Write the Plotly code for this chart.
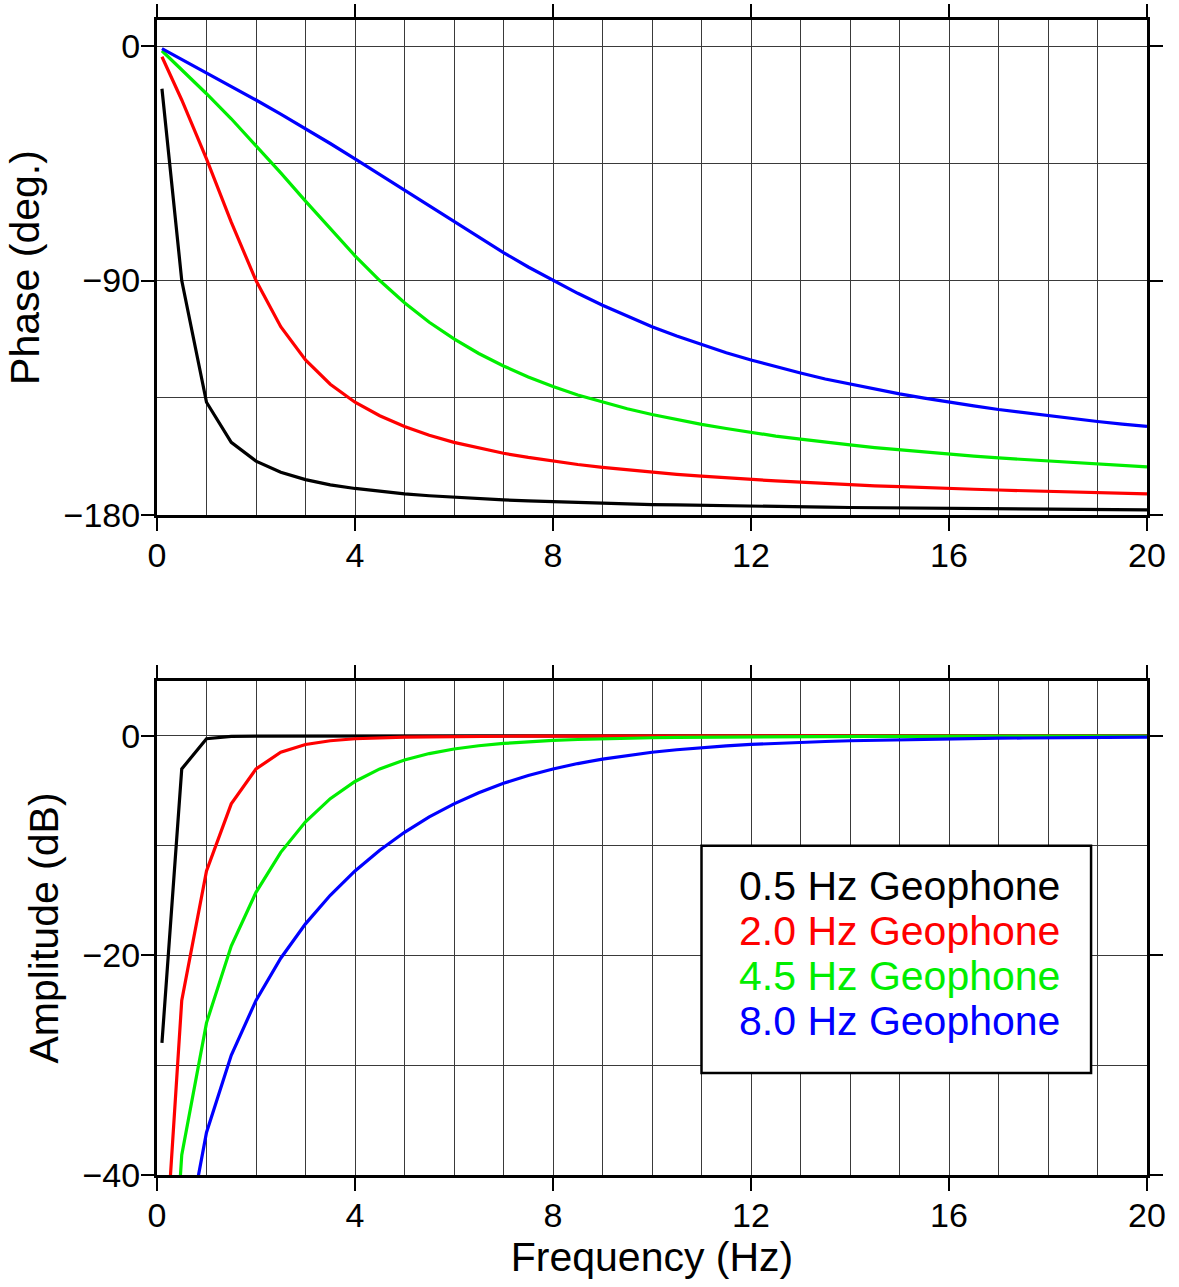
import plotly.graph_objects as go

# ---------------- data ----------------
freq = [0.1, 0.5, 1.0, 1.5, 2.0, 2.5, 3.0, 3.5, 4.0, 4.5, 5.0, 5.5, 6.0, 6.5, 7.0, 7.5,
        8.0, 8.5, 9.0, 9.5, 10.0, 10.5, 11.0, 11.5, 12.0, 12.5, 13.0, 13.5, 14.0, 14.5,
        15.0, 15.5, 16.0, 16.5, 17.0, 17.5, 18.0, 18.5, 19.0, 19.5, 20.0]

series_names = ["0.5 Hz Geophone", "2.0 Hz Geophone", "4.5 Hz Geophone", "8.0 Hz Geophone"]
series_colors = ["#000000", "#ff0000", "#00ee00", "#0000ff"]

phase_05 = [-16.4, -90.0, -136.7, -152.1, -159.3, -163.6, -166.4, -168.4, -169.8, -171.0,
            -171.9, -172.6, -173.2, -173.8, -174.2, -174.6, -174.9, -175.2, -175.5, -175.7,
            -176.0, -176.1, -176.3, -176.5, -176.6, -176.8, -176.9, -177.0, -177.1, -177.2,
            -177.3, -177.4, -177.5, -177.5, -177.6, -177.7, -177.7, -177.8, -177.9, -177.9,
            -178.0]
phase_20 = [-4.1, -20.7, -43.3, -67.6, -90.0, -107.7, -120.5, -129.8, -136.7, -141.9,
            -146.0, -149.4, -152.1, -154.3, -156.3, -157.9, -159.3, -160.6, -161.7, -162.7,
            -163.6, -164.4, -165.1, -165.8, -166.4, -166.9, -167.4, -167.9, -168.4, -168.8,
            -169.1, -169.5, -169.8, -170.1, -170.4, -170.7, -171.0, -171.2, -171.4, -171.7,
            -171.9]
phase_45 = [-1.8, -9.0, -18.3, -27.9, -38.1, -48.7, -59.5, -70.2, -80.5, -90.0,
            -98.5, -106.0, -112.4, -118.0, -122.8, -127.0, -130.7, -133.9, -136.7, -139.2,
            -141.4, -143.4, -145.2, -146.8, -148.3, -149.7, -150.9, -152.1, -153.1, -154.1,
            -155.0, -155.9, -156.6, -157.4, -158.1, -158.7, -159.3, -159.9, -160.5, -161.0,
            -161.5]
phase_80 = [-1.0, -5.1, -10.2, -15.4, -20.7, -26.1, -31.7, -37.4, -43.3, -49.3,
            -55.4, -61.5, -67.6, -73.5, -79.3, -84.8, -90.0, -94.9, -99.5, -103.7,
            -107.7, -111.3, -114.6, -117.7, -120.5, -123.1, -125.5, -127.8, -129.8, -131.7,
            -133.5, -135.1, -136.7, -138.1, -139.5, -140.7, -141.9, -143.1, -144.1, -145.1,
            -146.0]

amp_05 = [-27.97, -3.01, -0.26, -0.05, -0.02, -0.01, 0.0, 0.0, 0.0, 0.0,
          0.0, 0.0, 0.0, 0.0, 0.0, 0.0, 0.0, 0.0, 0.0, 0.0,
          0.0, 0.0, 0.0, 0.0, 0.0, 0.0, 0.0, 0.0, 0.0, 0.0,
          0.0, 0.0, 0.0, 0.0, 0.0, 0.0, 0.0, 0.0, 0.0, 0.0,
          0.0]
amp_20 = [-52.04, -24.10, -12.30, -6.19, -3.01, -1.49, -0.78, -0.44, -0.26, -0.17,
          -0.11, -0.08, -0.05, -0.04, -0.03, -0.02, -0.02, -0.01, -0.01, -0.01,
          -0.01, -0.01, 0.0, 0.0, 0.0, 0.0, 0.0, 0.0, 0.0, 0.0,
          0.0, 0.0, 0.0, 0.0, 0.0, 0.0, 0.0, 0.0, 0.0, 0.0,
          0.0]
amp_45 = [-66.13, -38.17, -26.14, -19.14, -14.25, -10.61, -7.83, -5.72, -4.15, -3.01,
          -2.19, -1.61, -1.19, -0.90, -0.69, -0.53, -0.41, -0.33, -0.26, -0.21,
          -0.17, -0.14, -0.12, -0.10, -0.09, -0.07, -0.06, -0.05, -0.05, -0.04,
          -0.04, -0.03, -0.03, -0.02, -0.02, -0.02, -0.02, -0.02, -0.01, -0.01,
          -0.01]
amp_80 = [-76.12, -48.16, -36.12, -29.09, -24.10, -20.25, -17.12, -14.52, -12.30, -10.41,
          -8.78, -7.38, -6.19, -5.18, -4.32, -3.61, -3.01, -2.52, -2.11, -1.77,
          -1.49, -1.26, -1.07, -0.91, -0.78, -0.67, -0.58, -0.51, -0.44, -0.39,
          -0.34, -0.30, -0.26, -0.23, -0.21, -0.19, -0.17, -0.15, -0.13, -0.12,
          -0.11]

phase_series = [phase_05, phase_20, phase_45, phase_80]
amp_series = [amp_05, amp_20, amp_45, amp_80]

x_ticks = [0, 4, 8, 12, 16, 20]
phase_ticks = [-180, -90, 0]
amp_ticks = [-40, -20, 0]

# ---------------- figure ----------------
FONT = "Liberation Sans, Arial, Helvetica, sans-serif"
fig = go.Figure()

for name, col, ph in zip(series_names, series_colors, phase_series):
    fig.add_trace(go.Scatter(x=freq, y=ph, mode="lines", name=name,
                             line=dict(color=col, width=3.2), showlegend=False,
                             xaxis="x", yaxis="y"))
for name, col, am in zip(series_names, series_colors, amp_series):
    fig.add_trace(go.Scatter(x=freq, y=am, mode="lines", name=name,
                             line=dict(color=col, width=3.2), showlegend=False,
                             xaxis="x2", yaxis="y2"))

grid_col = "#3a3a3a"
common_axis = dict(showline=True, linewidth=3, linecolor="black", mirror="allticks",
                   ticks="outside", ticklen=13, tickwidth=1.5, tickcolor="black",
                   showgrid=True, gridcolor=grid_col, gridwidth=1, zeroline=False,
                   automargin=False,
                   tickfont=dict(family=FONT, size=34, color="black"))

xcommon = dict(common_axis, range=[0, 20], tickmode="array", tickvals=x_ticks,
               ticktext=[str(v) for v in x_ticks], ticklabelstandoff=-5,
               minor=dict(dtick=1, tick0=0, showgrid=True, gridcolor=grid_col, gridwidth=1, ticks=""))

fig.update_layout(
    width=1179, height=1287,
    margin=dict(l=157, r=32, t=20, b=112, autoexpand=False),
    paper_bgcolor="white", plot_bgcolor="white",
    font=dict(family=FONT, color="black"),
    showlegend=False,
    xaxis=dict(xcommon, anchor="y", domain=[0, 1]),
    yaxis=dict(common_axis, anchor="x", domain=[0.5714, 1.0], range=[-180, 10],
               tickmode="array", tickvals=phase_ticks, ticklabelstandoff=-6,
               minor=dict(dtick=45, tick0=0, showgrid=True, gridcolor=grid_col, gridwidth=1, ticks=""),
               title=dict(text="Phase (deg.)", font=dict(family=FONT, size=41), standoff=12)),
    xaxis2=dict(xcommon, anchor="y2", domain=[0, 1],
                title=dict(text="Frequency (Hz)", font=dict(family=FONT, size=41), standoff=10)),
    yaxis2=dict(common_axis, anchor="x2", domain=[0.0, 0.4277], range=[-40, 5],
                tickmode="array", tickvals=amp_ticks, ticklabelstandoff=-6,
                minor=dict(dtick=10, tick0=0, showgrid=True, gridcolor=grid_col, gridwidth=1, ticks=""),
                title=dict(text="Amplitude (dB)", font=dict(family=FONT, size=41), standoff=12)),
)

# legend box (drawn in data coordinates of the lower panel)
fig.add_shape(type="rect", xref="x2", yref="y2", x0=11.0, x1=18.87, y0=-10.0, y1=-30.7,
              line=dict(color="black", width=2.5), fillcolor="white", layer="above")
legend_y = [-13.7, -17.8, -21.9, -26.0]
for name, col, yy in zip(series_names, series_colors, legend_y):
    fig.add_annotation(xref="x2", yref="y2", x=11.72, y=yy, text=name, showarrow=False,
                       xanchor="left", yanchor="middle",
                       font=dict(family=FONT, size=41, color=col))

fig.write_html("out.html")
